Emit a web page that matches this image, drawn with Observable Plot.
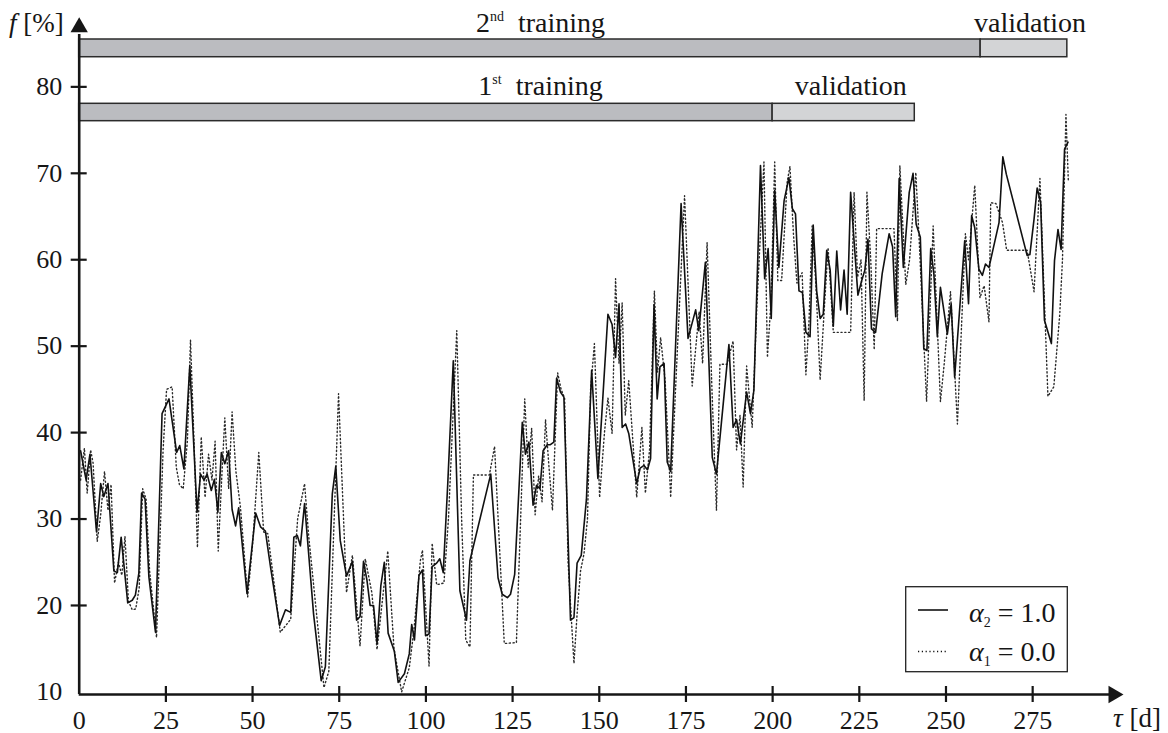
<!DOCTYPE html>
<html><head><meta charset="utf-8">
<script src="https://cdn.jsdelivr.net/npm/d3@7"></script>
<script src="https://cdn.jsdelivr.net/npm/@observablehq/plot@0.6"></script>
<style>
html,body{margin:0;padding:0;background:#fff;}
#chart{position:relative;width:1168px;height:733px;}
#chart svg, #chart svg text{font-family:"Liberation Serif","DejaVu Serif","Noto Serif",serif !important;}
</style></head><body><div id="chart"></div>
<script>
// ---- data ----
const solidDays = [0.4,2.0,3.1,5.0,6.2,7.1,8.3,10.0,11.0,12.1,14.0,15.3,16.2,17.2,18.0,19.0,20.1,22.0,23.9,25.9,28.1,29.0,30.2,31.9,34.0,35.0,36.0,36.9,38.1,39.0,40.0,41.0,42.0,43.1,44.1,45.1,46.0,48.4,50.9,52.3,53.7,55.2,57.8,59.5,61.0,61.9,62.9,63.8,65.0,67.6,69.8,71.0,73.0,74.0,75.3,77.1,78.8,80.0,81.0,82.0,83.0,83.9,84.9,85.9,87.0,88.0,89.1,90.9,92.0,93.8,95.2,95.9,96.7,98.0,99.0,99.9,100.9,101.8,103.1,104.0,105.0,106.3,107.9,109.8,111.7,112.7,118.7,120.8,122.0,123.5,124.4,125.6,127.8,128.7,129.7,130.9,131.9,132.9,133.8,135.0,135.9,136.9,137.7,138.8,139.8,141.7,142.7,143.6,144.8,146.3,147.8,149.6,152.5,153.7,154.7,155.7,156.6,157.6,158.5,160.8,161.8,162.9,163.9,164.8,165.8,166.7,167.5,168.7,169.6,170.6,173.6,175.6,177.8,178.7,180.6,182.6,183.8,187.4,188.6,189.6,190.7,192.5,193.6,194.6,196.5,197.7,198.7,199.6,200.6,201.8,203.3,204.7,205.7,206.6,207.6,208.6,209.6,210.8,211.7,212.7,213.7,214.6,215.6,216.6,217.5,218.5,219.6,220.6,221.5,222.5,224.6,225.7,226.6,227.5,228.5,229.7,231.6,233.6,234.6,235.5,236.5,237.7,239.4,240.5,241.4,242.6,243.6,244.5,245.6,246.5,247.5,248.4,250.4,251.5,252.5,255.4,256.5,257.4,258.3,259.5,260.5,261.4,262.4,265.3,266.4,267.4,273.4,274.2,275.4,276.3,277.3,278.4,280.4,281.3,282.3,283.2,284.2,285.2];
const solidValues = [37.9,34.5,37.5,28.5,34.1,32.6,34.1,24.0,23.8,27.9,20.3,20.6,21.2,23.7,33.0,32.3,23.3,16.9,42.2,43.9,37.7,38.5,35.8,47.8,30.8,35.2,34.5,35.2,33.3,34.6,30.8,37.7,36.4,37.9,31.1,29.2,31.3,21.4,30.7,29.1,28.6,24.4,17.7,19.5,19.2,27.9,28.1,26.9,31.8,19.0,11.3,12.9,32.9,36.1,27.5,23.4,25.1,18.3,18.7,25.1,22.9,20.0,20.0,15.6,22.3,25.0,16.8,14.7,11.1,12.1,14.4,17.8,16.0,23.5,24.1,16.5,16.7,24.5,24.9,25.4,23.8,34.1,48.3,21.7,18.3,25.2,35.2,23.2,21.3,20.9,21.3,23.6,41.2,37.5,38.9,31.6,33.9,33.5,37.9,38.6,38.6,38.9,46.3,44.7,44.1,18.3,18.6,24.9,25.8,32.3,47.2,34.7,53.7,52.5,48.7,54.9,40.6,41.0,39.9,34.1,35.9,36.2,35.7,37.0,54.8,43.9,47.6,48.0,36.6,35.5,66.5,50.9,54.2,51.8,59.7,37.1,35.2,50.2,40.6,41.5,38.7,44.7,42.2,44.9,70.9,57.8,61.3,53.2,68.0,59.1,66.8,69.5,65.9,65.3,56.4,56.2,51.6,51.1,64.0,56.4,53.2,53.7,61.1,58.8,52.3,61.0,54.2,58.8,53.7,67.8,55.9,57.6,58.8,62.4,52.0,51.6,58.4,63.0,61.5,53.4,69.4,59.1,67.8,70.0,64.1,62.6,49.7,49.5,61.3,58.4,51.1,56.8,51.4,54.9,46.4,62.2,54.9,65.1,63.7,58.9,58.2,59.5,59.1,64.3,71.9,69.9,60.5,60.6,64.7,68.3,66.6,53.0,50.3,59.9,63.5,61.2,72.8,73.6];

const dottedDays = [0.4,1.5,2.3,3.3,4.0,5.2,6.2,7.3,8.3,9.2,10.2,11.3,12.3,13.2,14.2,15.3,16.3,17.3,18.3,19.3,20.3,22.3,24.2,25.2,26.8,28.0,28.9,30.0,31.2,32.1,33.2,34.1,35.2,36.3,37.3,38.3,39.2,40.1,41.2,42.0,43.1,44.1,45.2,46.5,48.6,50.0,51.8,53.2,54.4,58.0,61.0,63.0,65.0,66.2,70.6,72.0,74.8,77.1,78.8,81.0,82.5,84.4,85.9,89.0,90.8,93.0,95.2,96.5,98.4,99.0,100.9,101.8,103.1,105.2,106.5,108.9,110.3,111.5,112.7,113.7,118.3,119.8,122.6,126.1,128.5,129.5,130.5,131.5,132.5,133.5,134.5,135.5,136.5,138.0,139.0,140.0,141.0,142.7,143.6,144.6,145.6,146.6,147.5,148.6,150.1,151.5,152.5,153.7,154.7,155.7,156.6,157.5,158.5,160.8,162.3,163.3,164.5,165.9,166.8,167.7,169.0,170.6,172.0,174.6,176.8,178.8,179.8,181.1,182.5,183.8,184.8,186.8,188.6,189.6,190.6,191.5,192.5,194.1,195.5,197.5,198.5,199.5,200.6,201.5,202.6,204.2,205.0,206.0,207.0,208.5,209.6,210.5,211.4,212.5,213.7,215.0,216.0,217.5,222.5,223.5,224.5,225.5,226.4,227.2,228.3,229.3,230.0,235.0,236.0,236.7,238.4,239.5,241.3,242.3,244.4,246.3,248.4,249.5,251.3,253.3,255.6,256.5,258.3,259.8,261.0,262.4,262.9,264.4,266.3,267.5,273.4,275.4,277.1,279.4,281.1,282.8,283.6,284.6,285.3];
const dottedValues = [34.5,38.2,33.0,38.0,36.5,27.4,30.5,35.5,31.0,34.0,22.6,25.0,23.5,28.0,20.5,19.5,19.6,22.0,33.5,32.3,24.0,16.3,38.0,45.0,45.3,36.0,34.0,33.5,39.0,50.7,38.0,26.7,39.5,32.5,37.5,34.5,39.0,26.3,35.5,41.7,33.5,42.4,35.5,31.4,21.0,27.0,37.7,28.5,28.3,16.9,18.4,30.0,34.1,28.0,10.5,12.4,44.5,21.5,25.8,15.3,25.4,21.5,14.9,26.3,15.0,10.0,12.8,17.0,25.2,26.4,13.0,27.2,22.4,22.6,30.0,51.8,30.0,16.0,15.2,35.1,35.1,38.4,15.6,15.7,43.9,36.0,40.5,30.5,35.0,32.0,41.5,36.0,31.0,46.9,45.0,44.0,25.0,13.3,19.0,24.0,26.0,30.0,45.0,50.3,32.5,40.0,44.0,39.9,57.8,48.0,55.0,42.0,46.0,32.5,40.6,33.0,38.0,56.4,47.0,51.0,46.0,32.5,45.0,67.4,45.4,54.0,48.0,62.0,45.0,31.0,47.9,47.9,50.6,38.0,42.0,33.7,47.7,40.6,55.0,71.3,48.7,55.0,71.3,57.6,57.6,69.0,70.8,63.0,57.3,58.5,46.7,53.0,63.9,57.0,46.1,55.0,61.4,51.6,51.6,67.8,58.0,60.0,43.7,67.8,60.0,49.6,63.6,63.6,52.9,70.9,57.1,60.0,70.1,62.0,43.6,63.9,43.6,48.0,56.3,41.0,63.0,60.0,68.6,55.6,57.0,52.8,66.6,66.5,64.3,61.1,61.1,56.3,69.4,44.2,45.3,53.6,60.0,76.8,69.0];

const xTicks = [0,25,50,75,100,125,150,175,200,225,250,275];
const yTicks = [10,20,30,40,50,60,70,80];

// training / validation periods [start, split, end] in days
const run1Days = [0, 200, 241];
const run2Days = [0, 260, 285];
const run1Label = "1";  const run1Suffix = "st";
const run2Label = "2";  const run2Suffix = "nd";
const legendNames = [["α","2","= 1.0"],["α","1","= 0.0"]];

// ---- layout ----
const W = 1168, H = 733;
const XMAX = 301.2, YMIN = 9.7, YMAX = 88.06;
const serif = "Liberation Serif, DejaVu Serif, Noto Serif, serif";
const ink = "#161616";

const solid = solidDays.map((d,i)=>({day:d, f:solidValues[i]}));
const dotted = dottedDays.map((d,i)=>({day:d, f:dottedValues[i]}));
const bars = [
  {x1:run2Days[0], x2:run2Days[1], y1:83.43, y2:85.48, phase:"training"},
  {x1:run2Days[1], x2:run2Days[2], y1:83.43, y2:85.48, phase:"validation"},
  {x1:run1Days[0], x2:run1Days[1], y1:76.03, y2:78.04, phase:"training"},
  {x1:run1Days[1], x2:run1Days[2], y1:76.03, y2:78.04, phase:"validation"}
];

const plot = Plot.plot({
  width: W, height: H,
  marginLeft: 78.7, marginRight: 45, marginTop: 16.7, marginBottom: 39,
  x: {domain: [0, XMAX]},
  y: {domain: [YMIN, YMAX]},
  style: {fontFamily: serif, fontSize: "26px", color: ink, background: "#fff", overflow: "visible"},
  marks: [
    Plot.rect(bars, {x1:"x1", x2:"x2", y1:"y1", y2:"y2",
      fill: d => d.phase === "training" ? "#bbbcc0" : "#d3d4d6",
      stroke: "#2b2b2b", strokeWidth: 1.5}),
    Plot.line(dotted, {x:"day", y:"f", stroke:"#2a2a2a", strokeWidth:1.4, strokeDasharray:"1.2,2.6"}),
    Plot.line(solid, {x:"day", y:"f", stroke:"#111", strokeWidth:1.6}),
    Plot.ruleY([YMIN], {x1: 0, x2: XMAX - 4, stroke: ink, strokeWidth: 2.6}),
    Plot.ruleX([0], {y1: YMIN, y2: YMAX - 2, stroke: ink, strokeWidth: 2.6}),
    Plot.ruleX(xTicks.slice(1), {x: d => d, y1: YMIN, y2: YMIN, insetTop: -8, insetBottom: -8, stroke: ink, strokeWidth: 2.2}),
    Plot.ruleY(yTicks.slice(1), {y: d => d, x1: 0, x2: 0, insetLeft: -8, insetRight: -8, stroke: ink, strokeWidth: 2.2}),
    Plot.dot([0], {x: 0, y: YMAX - 10/8.643, symbol: "triangle", r: 6.43, fill: ink, stroke: null}),
    Plot.dot([0], {x: XMAX - 10/3.467, y: YMIN, symbol: "triangle", r: 6.43, fill: ink, stroke: null, rotate: 90}),
    Plot.axisX({ticks: xTicks, tickSize: 0, tickPadding: 16, fontSize: 26, tickFormat: d => String(d)}),
    Plot.axisY({ticks: yTicks, tickSize: 0, tickPadding: 17, fontSize: 26, tickFormat: d => String(d)})
  ]
});

document.getElementById("chart").appendChild(plot);

// ---- annotations drawn with the plot's own scales ----
const sx = v => plot.scale("x").apply(v);
const sy = v => plot.scale("y").apply(v);
const svg = d3.select(plot);
const g = svg.append("g").attr("font-family", serif).attr("fill", ink);

// axis titles
const ft = g.append("text").attr("x", sx(0) - 15).attr("y", 32).attr("text-anchor", "end").attr("font-size", 27);
ft.append("tspan").attr("font-style", "italic").text("f");
ft.append("tspan").text(" [%]");
const tt = g.append("text").attr("x", sx(XMAX) - 10).attr("y", 727).attr("text-anchor", "start").attr("font-size", 27);
tt.append("tspan").attr("font-style", "italic").text("τ");
tt.append("tspan").text(" [d]");

// period labels
function ordinalLabel(x, y, num, suf) {
  const t = g.append("text").attr("x", x).attr("y", y).attr("text-anchor", "middle").attr("font-size", 28);
  t.append("tspan").text(num);
  t.append("tspan").attr("font-size", 14).attr("dy", -11).text(suf);
  t.append("tspan").attr("dy", 11).text("\u2002training");
}
ordinalLabel(sx(133.2), sy(86.3), run2Label, run2Suffix);
ordinalLabel(sx(133.2), sy(79.0), run1Label, run1Suffix);
g.append("text").attr("x", sx(274.4)).attr("y", sy(86.3)).attr("text-anchor", "middle").attr("font-size", 28).text("validation");
g.append("text").attr("x", sx(222.7)).attr("y", sy(79.0)).attr("text-anchor", "middle").attr("font-size", 28).text("validation");

// legend
const lg = svg.append("g").attr("font-family", serif).attr("text-anchor", "start");
lg.append("rect").attr("x", 905.7).attr("y", 586.7).attr("width", 161.6).attr("height", 85)
  .attr("fill", "#fff").attr("stroke", "#222").attr("stroke-width", 1.3);
const rows = [{y: 610, base: 621.5, dash: null}, {y: 651.5, base: 660.5, dash: "1.2,2.6"}];
rows.forEach((r, i) => {
  const ln = lg.append("line").attr("x1", 918).attr("x2", 948).attr("y1", r.y).attr("y2", r.y)
    .attr("stroke", "#111").attr("stroke-width", r.dash ? 1.4 : 1.6);
  if (r.dash) ln.attr("stroke-dasharray", r.dash);
  const t = lg.append("text").attr("x", 969).attr("y", r.base).attr("text-anchor", "start").attr("font-size", 28).attr("fill", ink);
  t.append("tspan").attr("font-style", "italic").text(legendNames[i][0]);
  t.append("tspan").attr("font-size", 14).attr("dy", 5).text(legendNames[i][1]);
  t.append("tspan").attr("dy", -5).text(" " + legendNames[i][2]);
});
</script></body></html>
